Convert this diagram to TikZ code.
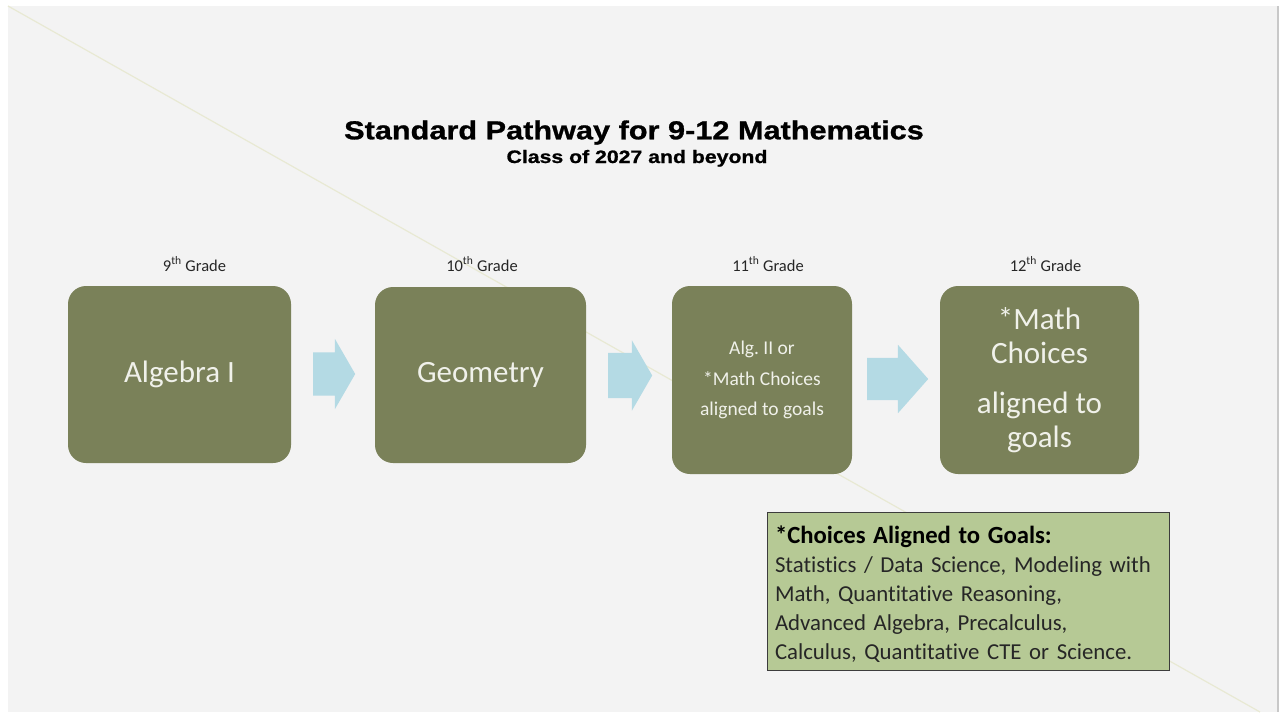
\documentclass[tikz,border=0pt]{standalone}
\usepackage{fontspec}
\setmainfont{Carlito}[Ligatures=NoCommon]
\newfontfamily\headfont[FakeStretch=1.18,FakeBold=1]{Liberation Sans Bold}
\usetikzlibrary{shapes.arrows}
\frenchspacing

\definecolor{pagebg}{HTML}{F3F3F3}
\definecolor{pageedge}{HTML}{C8C8C8}
\definecolor{guide}{HTML}{E8E9D3}
\definecolor{courseolive}{HTML}{7A8159}
\definecolor{coursetext}{HTML}{F0F1EA}
\definecolor{arrowblue}{HTML}{B4DAE4}
\definecolor{goalgreen}{HTML}{B6C995}
\definecolor{goalline}{HTML}{3C3C3C}
\definecolor{darktext}{HTML}{262626}

\tikzset{
  course/.style={fill=courseolive, rounded corners=18pt, text=coursetext,
    align=center, inner sep=0pt},
  grade/.style={font=\fontsize{16.5}{20}\selectfont, text=darktext, anchor=base},
  flowarrow/.style={single arrow, fill=arrowblue, anchor=tail, inner xsep=0pt,
    single arrow head indent=0pt},
}

\begin{document}
\begin{tikzpicture}[x=1pt, y=-1pt]
  \useasboundingbox (0, 0) rectangle (1279, 712);
  \fill [white] (0, 0) rectangle (1279, 712);
  \fill [pagebg] (8, 6) rectangle (1277, 712);
  \fill [pageedge] (1276.5, 6) rectangle (1278.5, 712);
  \draw [guide, line width=1.2pt] (8, 6) -- (1260, 712);

  % heading
  \node [font=\headfont\fontsize{26}{30}\selectfont, anchor=base] (title) at (634, 139.3)
    {Standard Pathway for 9-12 Mathematics};
  \node [font=\headfont\fontsize{18}{22}\selectfont, anchor=base] (subtitle) at (637, 163)
    {Class of 2027 and beyond};

  % grade labels
  \node [grade] (g9) at (194.5, 271) {9\textsuperscript{th} Grade};
  \node [grade] (g10) at (482, 271) {10\textsuperscript{th} Grade};
  \node [grade] (g11) at (768, 271) {11\textsuperscript{th} Grade};
  \node [grade] (g12) at (1045.5, 271) {12\textsuperscript{th} Grade};

  % courses
  \node [course, minimum width=223pt, minimum height=177pt,
    font=\fontsize{31}{37}\selectfont] (alg1) at (179.5, 374.5) {Algebra I};
  \node [course, minimum width=211pt, minimum height=176pt,
    font=\fontsize{31}{37}\selectfont] (geom) at (480.5, 375) {Geometry};
  \node [course, minimum width=180pt, minimum height=188pt,
    font=\fontsize{19.5}{30.5}\selectfont] (alg2) at (762, 380)
    {Alg. II or\\*Math Choices\\aligned to goals};
  \node [course, minimum width=199pt, minimum height=188pt,
    font=\fontsize{31}{34}\selectfont] (choice) at (1039.5, 380)
    {*Math\\Choices\\[16pt]aligned to\\goals};

  % arrows between the courses
  \node [flowarrow, minimum height=42pt, inner ysep=21.5pt,
    single arrow head extend=13.5pt, single arrow tip angle=120] (ar1) at (313, 374) {};
  \node [flowarrow, minimum height=44pt, inner ysep=22.5pt,
    single arrow head extend=12.5pt, single arrow tip angle=120] (ar2) at (608, 375.5) {};
  \node [flowarrow, minimum height=61pt, inner ysep=21pt,
    single arrow head extend=13pt, single arrow tip angle=97] (ar3) at (867, 379) {};

  % list of choices
  \node [fill=goalgreen, draw=goalline, line width=1pt, minimum width=402pt,
    minimum height=158pt] (goals) at (968, 591) {};
  \node [text width=386pt, inner sep=0pt, align=left, text=darktext,
    font=\fontsize{22.8}{29}\selectfont] (goaltext) at ([yshift=-3.5pt]goals.center)
    {{\fontsize{24.7}{29}\selectfont\bfseries\color{black}*Choices Aligned to Goals:}\\
     Statistics / Data Science, Modeling with\\
     Math, Quantitative Reasoning,\\
     Advanced Algebra, Precalculus,\\
     Calculus, Quantitative CTE or Science.};
\end{tikzpicture}
\end{document}
